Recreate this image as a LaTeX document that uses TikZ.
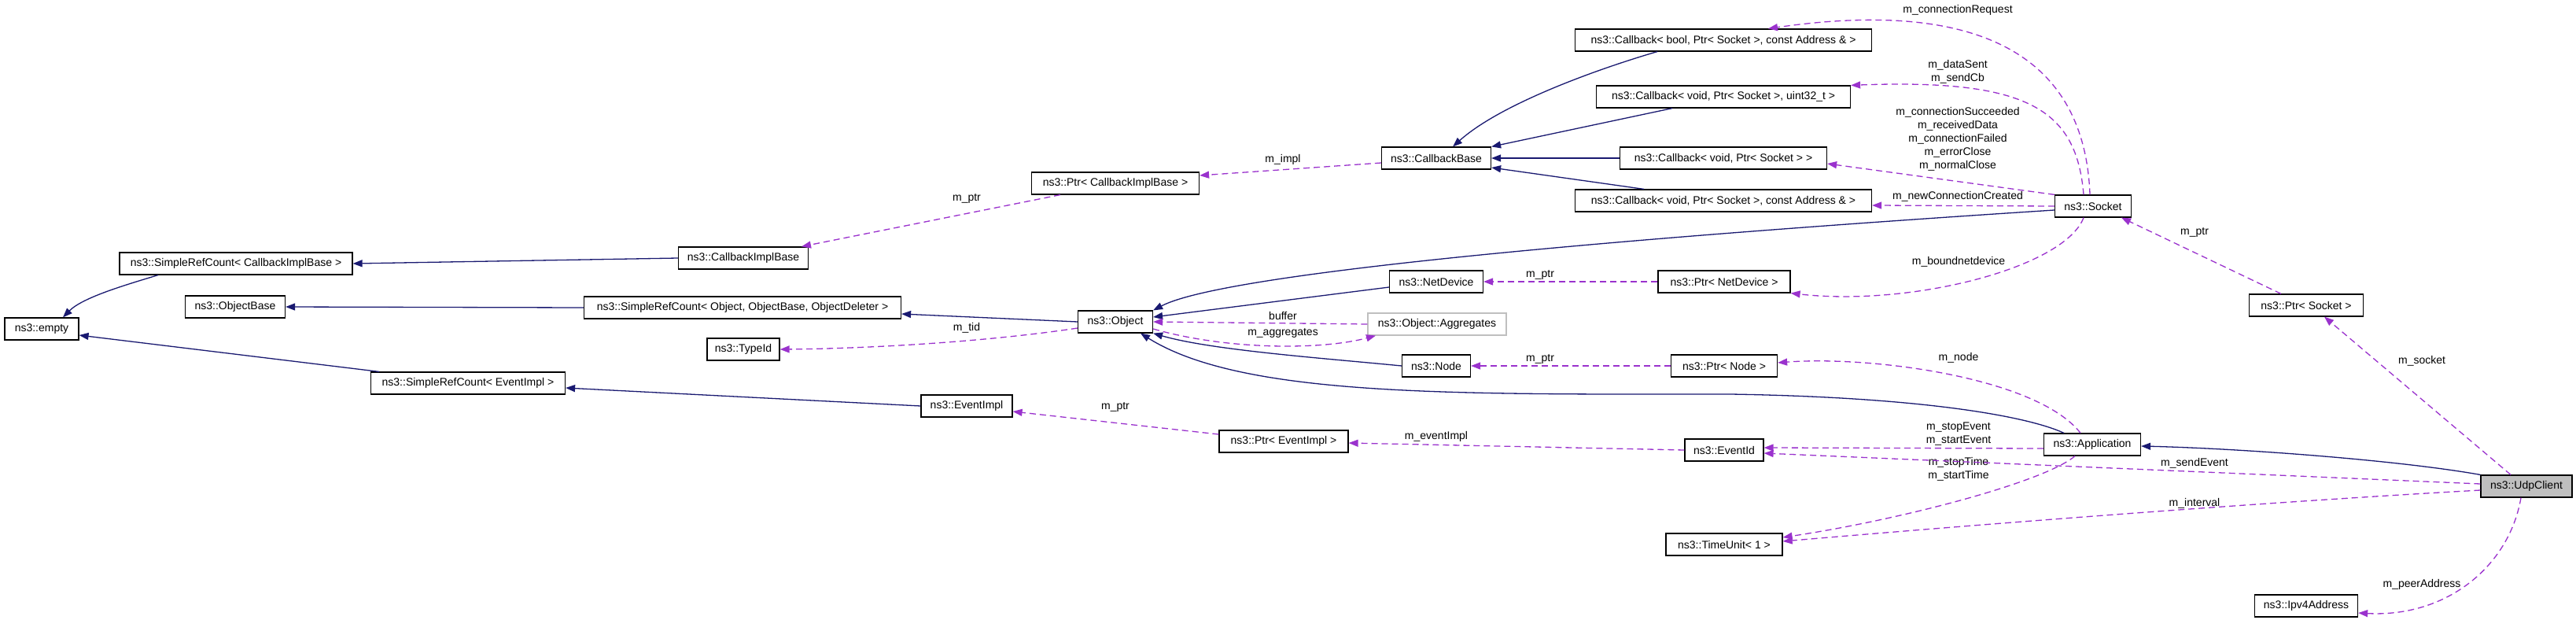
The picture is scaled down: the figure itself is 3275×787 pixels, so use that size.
\documentclass[tikz,border=0pt]{standalone}
\usepackage{fontspec}
\setmainfont{Liberation Sans}
\usetikzlibrary{arrows.meta}
\definecolor{inhblue}{HTML}{191970}
\definecolor{usepurple}{HTML}{9A32CD}
\begin{document}
\begin{tikzpicture}[x=1pt,y=-1pt,
cls/.style={draw=black,line width=1.2pt,fill=white,minimum height=28pt,inner sep=2pt,font=\fontsize{14}{17}\selectfont},
inh/.style={-{Stealth[length=12pt,width=9pt,inset=0pt]},draw=inhblue,line width=1.3pt},
member/.style={-{Stealth[length=12pt,width=9pt,inset=0pt]},draw=usepurple,line width=1.3pt,dash pattern=on 8pt off 5pt},
lbl/.style={font=\fontsize{14}{17}\selectfont,inner sep=0pt,align=center}]
\useasboundingbox (0,0) rectangle (3275,787);
\node [cls,minimum width=94pt] (empty) at (53,418) {ns3::empty};
\node [cls,minimum width=296pt] (srcCIB) at (300,335) {ns3::SimpleRefCount< CallbackImplBase >};
\node [cls,minimum width=127pt] (objBase) at (299,390) {ns3::ObjectBase};
\node [cls,minimum width=403pt] (srcObj) at (944,391) {ns3::SimpleRefCount< Object, ObjectBase, ObjectDeleter >};
\node [cls,minimum width=247pt] (srcEI) at (595,487) {ns3::SimpleRefCount< EventImpl >};
\node [cls,minimum width=165pt] (cib) at (945,328) {ns3::CallbackImplBase};
\node [cls,minimum width=92pt] (typeId) at (945,444) {ns3::TypeId};
\node [cls,minimum width=116pt] (eventImpl) at (1229,516) {ns3::EventImpl};
\node [cls,minimum width=95pt] (object) at (1418,409) {ns3::Object};
\node [cls,minimum width=213pt] (ptrCIB) at (1418,233) {ns3::Ptr< CallbackImplBase >};
\node [cls,minimum width=164pt] (ptrEI) at (1632,561) {ns3::Ptr< EventImpl >};
\node [cls,minimum width=139pt] (cbBase) at (1826,201) {ns3::CallbackBase};
\node [cls,minimum width=119pt] (netDev) at (1826,358) {ns3::NetDevice};
\node [cls,minimum width=176pt,draw=black!25] (aggr) at (1827,412) {ns3::Object::Aggregates};
\node [cls,minimum width=87pt] (node) at (1826,465) {ns3::Node};
\node [cls,minimum width=377pt] (cbBool) at (2191,51) {ns3::Callback< bool, Ptr< Socket >, const Address \& >};
\node [cls,minimum width=323pt] (cbU32) at (2191,123) {ns3::Callback< void, Ptr< Socket >, uint32\_t >};
\node [cls,minimum width=263pt] (cbVoid) at (2191,201) {ns3::Callback< void, Ptr< Socket > >};
\node [cls,minimum width=377pt] (cbAddr) at (2191,255) {ns3::Callback< void, Ptr< Socket >, const Address \& >};
\node [cls,minimum width=168pt] (ptrND) at (2192,358) {ns3::Ptr< NetDevice >};
\node [cls,minimum width=135pt] (ptrNode) at (2192,465) {ns3::Ptr< Node >};
\node [cls,minimum width=100pt] (eventId) at (2192,572) {ns3::EventId};
\node [cls,minimum width=148pt] (timeUnit) at (2192,692) {ns3::TimeUnit< 1 >};
\node [cls,minimum width=97pt] (socket) at (2661,262) {ns3::Socket};
\node [cls,minimum width=123pt] (app) at (2660,565) {ns3::Application};
\node [cls,minimum width=145pt] (ptrSock) at (2932,388) {ns3::Ptr< Socket >};
\node [cls,minimum width=116pt,fill=black!25] (udp) at (3212,618) {ns3::UdpClient};
\node [cls,minimum width=131pt] (ipv4) at (2932,770) {ns3::Ipv4Address};
\draw [inh] ([xshift=-99pt]srcCIB.south) .. controls (160,362) and (105,378) .. ([xshift=27pt]empty.north);
\draw [inh] ([xshift=-113pt]srcEI.north)--([yshift=-8pt]empty.east);
\draw [inh] (cib.west)--(srcCIB.east);
\draw [inh] (srcObj.west)--(objBase.east);
\draw [inh] (object.west)--([yshift=-8pt]srcObj.east);
\draw [inh] (eventImpl.west)--([yshift=-6pt]srcEI.east);
\draw [inh] ([xshift=-84pt]cbBool.south) .. controls (2040,85) and (1910,130) .. ([xshift=21pt]cbBase.north);
\draw [inh] ([xshift=-65pt]cbU32.south)--(cbBase.north east);
\draw [inh] (cbVoid.west)--(cbBase.east);
\draw [inh] ([xshift=-101pt]cbAddr.north)--([yshift=-12pt]cbBase.east);
\draw [inh] ([yshift=-5pt]socket.west) .. controls (2100,300) and (1560,345) .. (object.north east);
\draw [inh] ([yshift=-7pt]netDev.west)--([yshift=6pt]object.east);
\draw [inh] (node.west) .. controls (1680,455) and (1540,445) .. (object.south east);
\draw [inh] ([xshift=-36pt]app.north) .. controls (2580,530) and (2450,505) .. (2200,501) .. controls (1850,501) and (1580,505) .. ([xshift=32pt]object.south);
\draw [inh] (udp.north west) .. controls (3050,585) and (2850,570) .. ([yshift=-2pt]app.east);
\draw [member] ([xshift=-70pt]ptrCIB.south)--([xshift=74pt]cib.north) node [lbl] at (1229,252) {m\_ptr};
\draw [member] ([yshift=-6pt]cbBase.west)--([yshift=10pt]ptrCIB.east) node [lbl] at (1631,203) {m\_impl};
\draw [member] ([yshift=-8pt]object.west) .. controls (1250,435) and (1100,443) .. (typeId.east) node [lbl] at (1229,417) {m\_tid};
\draw [member] (aggr.west)--(object.east) node [lbl] at (1631,401) {buffer};
\draw [member] ([yshift=-9pt]object.east) .. controls (1560,445) and (1680,445) .. ([xshift=-78pt]aggr.south) node [lbl] at (1631,423) {m\_aggregates};
\draw [member] ([yshift=9pt]ptrEI.west)--([yshift=-7pt]eventImpl.east) node [lbl] at (1418,517) {m\_ptr};
\draw [member] (eventId.west)--([yshift=-2pt]ptrEI.east) node [lbl] at (1826,555) {m\_eventImpl};
\draw [member] (ptrND.west)--(netDev.east) node [lbl] at (1958,349) {m\_ptr};
\draw [member] (ptrNode.west)--(node.east) node [lbl] at (1958,456) {m\_ptr};
\draw [member] ([xshift=-4pt]socket.north) .. controls (2650,60) and (2500,0) .. ([xshift=57pt]cbBool.north) node [lbl] at (2489,13) {m\_connectionRequest};
\draw [member] ([xshift=-12pt]socket.north) .. controls (2640,140) and (2580,100) .. (cbU32.north east) node [lbl] at (2489,91) {m\_dataSent\\m\_sendCb};
\draw [member] (socket.north west)--([yshift=-7pt]cbVoid.east) node [lbl] at (2489,177) {m\_connectionSucceeded\\m\_receivedData\\m\_connectionFailed\\m\_errorClose\\m\_normalClose};
\draw [member] (socket.west)--([yshift=-6pt]cbAddr.east) node [lbl] at (2489,250) {m\_newConnectionCreated};
\draw [member] ([xshift=-12pt]socket.south) .. controls (2625,340) and (2430,390) .. (ptrND.south east) node [lbl] at (2490,333) {m\_boundnetdevice};
\draw [member] ([xshift=-32pt]ptrSock.north)--([xshift=36pt]socket.south) node [lbl] at (2790,295) {m\_ptr};
\draw [member] ([xshift=-20pt]udp.north)--([xshift=23pt]ptrSock.south) node [lbl] at (3079,459) {m\_socket};
\draw [member] ([xshift=-15pt]app.north) .. controls (2590,480) and (2380,452) .. ([yshift=4pt]ptrNode.east) node [lbl] at (2490,455) {m\_node};
\draw [member] ([yshift=-5pt]app.west)--([yshift=3pt]eventId.east) node [lbl] at (2490,552) {m\_stopEvent\\m\_startEvent};
\draw [member] ([xshift=-22pt]app.south) .. controls (2600,612) and (2420,660) .. ([yshift=9pt]timeUnit.east) node [lbl] at (2490,596) {m\_stopTime\\m\_startTime};
\draw [member] ([yshift=3pt]udp.west)--([yshift=-4pt]eventId.east) node [lbl] at (2790,589) {m\_sendEvent};
\draw [member] ([yshift=-5pt]udp.west) .. controls (2850,640) and (2500,668) .. ([yshift=4pt]timeUnit.east) node [lbl] at (2790,640) {m\_interval};
\draw [member] ([xshift=-7pt]udp.south) .. controls (3190,720) and (3110,785) .. ([yshift=-9pt]ipv4.east) node [lbl] at (3079,743) {m\_peerAddress};
\end{tikzpicture}
\end{document}
